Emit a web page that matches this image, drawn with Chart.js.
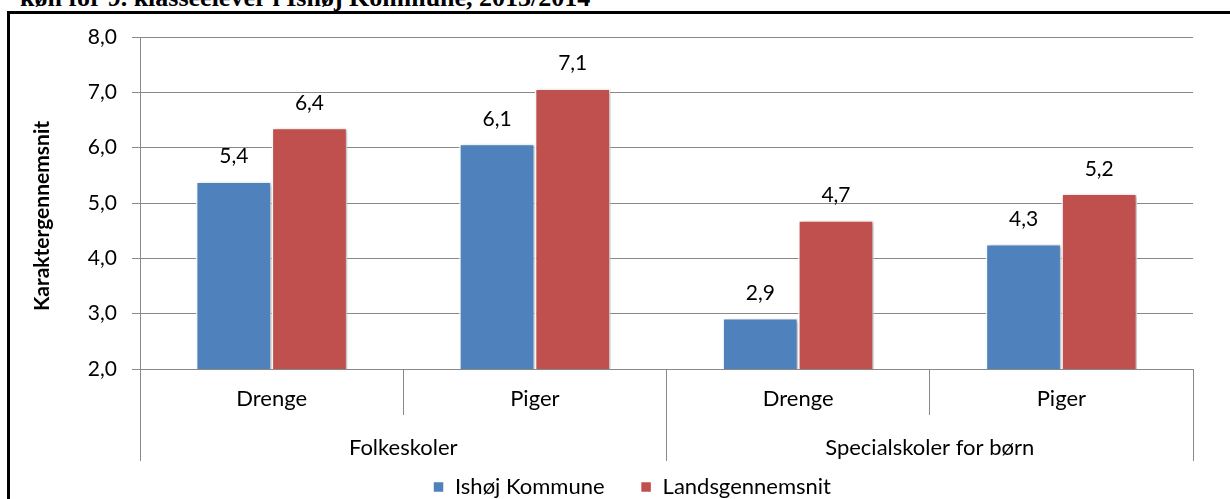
<!DOCTYPE html>
<html>
<head>
<meta charset="utf-8">
<script src="https://cdn.jsdelivr.net/npm/chart.js@4"></script>
<style>
    html, body { margin: 0; padding: 0; width: 1230px; height: 499px; overflow: hidden; background: #fff; }
    #titel {
        position: absolute; left: 20px; top: -15px;
        font: bold 26px "Liberation Serif", serif; line-height: 26px;
        white-space: nowrap; color: #000;
    }
    #ramme {
        position: absolute; left: 7px; top: 11px; width: 1300px; height: 600px;
        border-top: 3px solid #000; border-left: 3px solid #000;
    }
    #boks { position: absolute; left: 0; top: 0; width: 1230px; height: 508px; }
</style>
</head>
<body>
<div id="titel">køn for 9. klasseelever i Ishøj Kommune, 2013/2014</div>
<div id="ramme"></div>
<div id="boks"><canvas id="grafik"></canvas></div>
<script>
const kategorier = ['Drenge', 'Piger', 'Drenge', 'Piger'];
const skoletyper = ['Folkeskoler', 'Specialskoler for børn'];
const ishoj = [5.39, 6.07, 2.92, 4.26];
const landsgennemsnit = [6.36, 7.07, 4.69, 5.17];
const yMin = 2;
const yMax = 8;
const yTitel = 'Karaktergennemsnit';

const graa = '#898989';
const skrift = 'Lato, "Open Sans", sans-serif';

function komma(v) {
    return Number(v).toFixed(1).replace('.', ',');
}

// skygge bag søjlerne, værdier over søjlerne, skoletyper og y-titel
const ekstraTekst = {
    id: 'ekstraTekst',
    beforeDatasetsDraw(chart) {
        const ctx = chart.ctx;
        ctx.save();
        ctx.shadowColor = 'rgba(0,0,0,0.28)';
        ctx.shadowBlur = 4;
        ctx.shadowOffsetX = 2;
        ctx.shadowOffsetY = 1;
    },
    afterDatasetsDraw(chart) {
        const ctx = chart.ctx;
        ctx.restore();
        ctx.save();
        ctx.font = '21px ' + skrift;
        ctx.fillStyle = '#000';
        ctx.textAlign = 'center';
        ctx.textBaseline = 'alphabetic';
        chart.data.datasets.forEach((ds, i) => {
            chart.getDatasetMeta(i).data.forEach((bar, j) => {
                ctx.fillText(komma(ds.data[j]), bar.x, bar.y - 18);
            });
        });
        ctx.restore();
    },
    afterDraw(chart) {
        const ctx = chart.ctx;
        const x2 = chart.scales.x2;
        const y = chart.scales.y;
        ctx.save();
        ctx.fillStyle = '#000';
        ctx.textAlign = 'center';
        ctx.textBaseline = 'alphabetic';
        ctx.font = '22px ' + skrift;
        skoletyper.forEach((t, i) => {
            ctx.fillText(t, x2.getPixelForTick(i), x2.top + 40);
        });
        ctx.translate(y.right - 98, (y.top + y.bottom) / 2 + 13);
        ctx.rotate(-Math.PI / 2);
        ctx.textBaseline = 'middle';
        ctx.font = 'bold 21px ' + skrift;
        ctx.fillText(yTitel, 0, 0);
        ctx.restore();
    }
};

new Chart(document.getElementById('grafik'), {
    type: 'bar',
    data: {
        labels: kategorier,
        datasets: [
            {
                label: 'Ishøj Kommune',
                data: ishoj,
                backgroundColor: '#4f81bd',
                borderColor: '#ffffff',
                borderWidth: 1.5,
                xAxisID: 'x'
            },
            {
                label: 'Landsgennemsnit',
                data: landsgennemsnit,
                backgroundColor: '#c0504d',
                borderColor: '#ffffff',
                borderWidth: 1.5,
                xAxisID: 'x'
            }
        ]
    },
    options: {
        responsive: true,
        maintainAspectRatio: false,
        animation: false,
        layout: { padding: { top: 37, right: 37, left: 71, bottom: 0 } },
        datasets: { bar: { categoryPercentage: 0.575, barPercentage: 1 } },
        plugins: {
            tooltip: { enabled: false },
            legend: {
                position: 'bottom',
                labels: {
                    boxWidth: 11,
                    boxHeight: 11,
                    padding: 36,
                    color: '#000',
                    font: { family: skrift, size: 22 }
                }
            }
        },
        scales: {
            x: {
                type: 'category',
                position: 'bottom',
                offset: true,
                grid: { offset: true, drawOnChartArea: false, tickLength: 46, color: graa },
                border: { display: true, color: graa },
                ticks: {
                    color: '#000',
                    font: { family: skrift, size: 22 },
                    padding: -29,
                    maxRotation: 0,
                    autoSkip: false
                },
                afterFit(scale) { scale.height = 46; }
            },
            x2: {
                type: 'category',
                position: 'bottom',
                labels: skoletyper,
                offset: true,
                grid: { offset: true, drawOnChartArea: false, tickLength: 46, color: graa },
                border: { display: false },
                ticks: { display: false },
                afterFit(scale) { scale.height = 25; }
            },
            y: {
                min: yMin,
                max: yMax,
                ticks: {
                    stepSize: 1,
                    color: '#000',
                    font: { family: skrift, size: 21 },
                    padding: 15,
                    callback: v => komma(v)
                },
                grid: { color: graa, tickLength: 8 },
                border: { display: true, color: graa },
                title: { display: false },
                afterFit(scale) { scale.width = 69; }
            }
        }
    },
    plugins: [ekstraTekst]
});
</script>
</body>
</html>
